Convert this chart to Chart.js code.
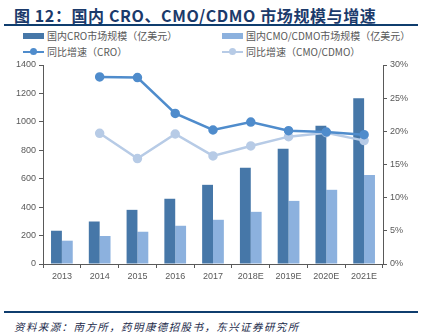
<!DOCTYPE html>
<html>
<head>
<meta charset="utf-8">
<script src="https://cdn.jsdelivr.net/npm/chart.js@4/dist/chart.umd.min.js"></script>
<style>
  html, body { margin: 0; padding: 0; background: #fff; }
  body { width: 422px; height: 336px; position: relative; overflow: hidden;
         font-family: "Noto Sans CJK SC", "Noto Sans", sans-serif; }
  .title { position: absolute; left: 14px; top: 3px; font-size: 16px; font-weight: bold;
           color: #1b3a6b; white-space: nowrap; letter-spacing: 0.6px; }
  .rule { position: absolute; left: 4px; width: 414px; height: 2px; background: #0f3d6e; }
  .legend { position: absolute; font-size: 10px; color: #595959; white-space: nowrap; }
  .legend .item { position: absolute; display: flex; align-items: center; }
  .legend .sw { width: 21px; height: 6px; margin-right: 3px; }
  .legend .ln { width: 21px; height: 2px; margin-right: 3px; position: relative; }
  .legend .ln i { position: absolute; left: 7px; top: -3px; width: 7px; height: 7px; border-radius: 50%; }
  #wrap { position: absolute; left: 0; top: 55px; width: 422px; height: 240px; }
  .source { position: absolute; left: 14px; top: 319px; font-size: 10.5px; font-style: italic;
            color: #1b2a4a; white-space: nowrap; letter-spacing: 1.4px; }
</style>
</head>
<body>
<div class="title">图 12：国内 CRO、CMO/CDMO 市场规模与增速</div>
<div class="rule" style="top:24px"></div>

<div class="legend">
  <div class="item" style="left:23px; top:28px"><span class="sw" style="background:#4677a8"></span>国内CRO市场规模（亿美元）</div>
  <div class="item" style="left:222px; top:28px"><span class="sw" style="background:#8cb1de"></span>国内CMO/CDMO市场规模（亿美元）</div>
  <div class="item" style="left:23px; top:44px"><span class="ln" style="background:#4f8ccc"><i style="background:#4f8ccc"></i></span>同比增速（CRO）</div>
  <div class="item" style="left:222px; top:44px"><span class="ln" style="background:#b7cbe6"><i style="background:#b7cbe6"></i></span>同比增速（CMO/CDMO）</div>
</div>

<div id="wrap"><canvas id="c"></canvas></div>

<div class="rule" style="top:311px"></div>
<div class="source">资料来源：南方所，药明康德招股书，东兴证券研究所</div>

<script>
// categories and values
const years = ['2013', '2014', '2015', '2016', '2017', '2018E', '2019E', '2020E', '2021E'];
const croSize = [234, 299, 381, 459, 557, 678, 810, 972, 1166];
const cmoSize = [164, 197, 227, 269, 311, 367, 444, 522, 627];
const croGrowth = [null, 28.2, 28.1, 22.7, 20.2, 21.4, 20.1, 19.9, 19.5];
const cmoGrowth = [null, 19.7, 15.9, 19.6, 16.3, 17.8, 19.2, 19.8, 18.6];

const axisColor = '#595959';
const tickFont = { family: '"Liberation Sans", Arial, sans-serif', size: 9 };

new Chart(document.getElementById('c'), {
  data: {
    labels: years,
    datasets: [
      { type: 'line', label: '同比增速（CRO）', data: croGrowth, yAxisID: 'yR',
        borderColor: '#4f8ccc', backgroundColor: '#4f8ccc', borderWidth: 2.5,
        pointRadius: 3.5, pointHoverRadius: 3.5, tension: 0, order: 1 },
      { type: 'line', label: '同比增速（CMO/CDMO）', data: cmoGrowth, yAxisID: 'yR',
        borderColor: '#b7cbe6', backgroundColor: '#b7cbe6', borderWidth: 2.5,
        pointRadius: 3.5, pointHoverRadius: 3.5, tension: 0, order: 2 },
      { type: 'bar', label: '国内CRO市场规模（亿美元）', data: croSize, yAxisID: 'yL',
        backgroundColor: '#4677a8', barPercentage: 1, categoryPercentage: 0.575, order: 3 },
      { type: 'bar', label: '国内CMO/CDMO市场规模（亿美元）', data: cmoSize, yAxisID: 'yL',
        backgroundColor: '#8cb1de', barPercentage: 1, categoryPercentage: 0.575, order: 4 }
    ]
  },
  options: {
    responsive: true,
    maintainAspectRatio: false,
    animation: false,
    layout: { padding: { top: 10, left: 0, right: 0, bottom: 0 } },
    plugins: { legend: { display: false }, tooltip: { enabled: false } },
    scales: {
      x: {
        offset: true,
        grid: { offset: true, drawOnChartArea: false, drawTicks: true, tickLength: 4, color: axisColor },
        border: { color: axisColor, width: 1 },
        ticks: { color: axisColor, font: tickFont, padding: 3, maxRotation: 0 },
        afterFit: (s) => { s.height = 31; }
      },
      yL: {
        position: 'left', min: 0, max: 1400,
        grid: { drawOnChartArea: false, tickLength: 4, color: axisColor },
        border: { color: axisColor, width: 1 },
        ticks: { stepSize: 200, color: axisColor, font: tickFont, padding: 3,
                 callback: (v) => String(v) },
        afterFit: (s) => { s.width = 43; }
      },
      yR: {
        position: 'right', min: 0, max: 30,
        grid: { drawOnChartArea: false, tickLength: 4, color: axisColor },
        border: { color: axisColor, width: 1 },
        ticks: { stepSize: 5, color: axisColor, font: tickFont, padding: 3,
                 callback: (v) => v + '%' },
        afterFit: (s) => { s.width = 39; }
      }
    }
  }
});
</script>
</body>
</html>
